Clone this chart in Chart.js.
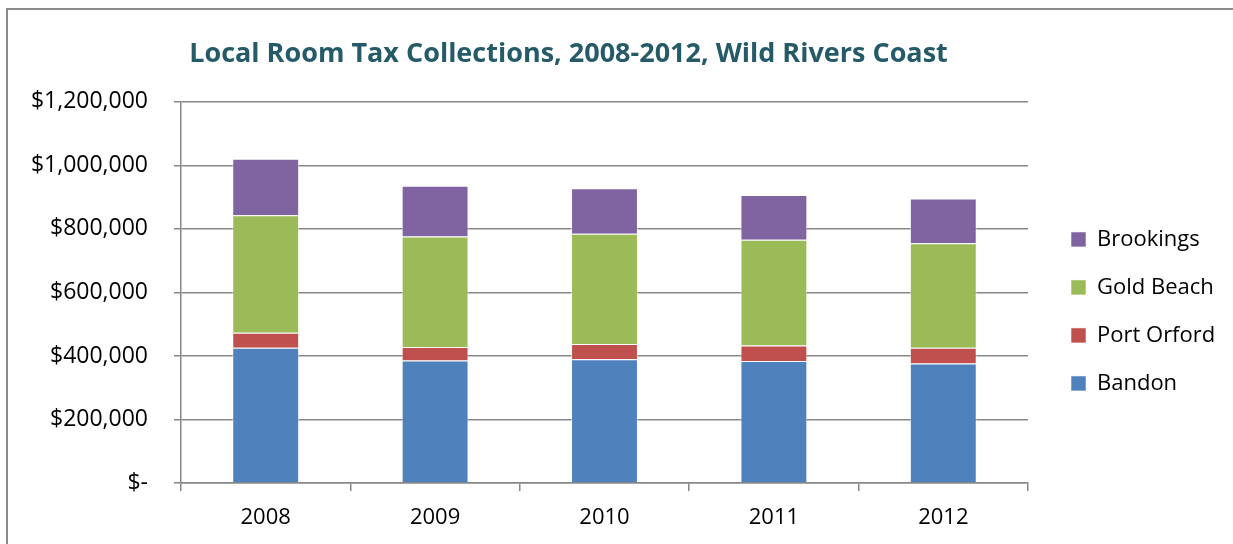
<!DOCTYPE html>
<html>
<head>
<meta charset="utf-8">
<script src="https://cdn.jsdelivr.net/npm/chart.js@4.4.1/dist/chart.umd.min.js"></script>
<style>
  html, body { margin: 0; padding: 0; background: #fff; overflow: hidden; }
  #frame { position: absolute; left: 6px; top: 8px; width: 1400px; height: 700px; border: 2px solid #8a8a8a; box-sizing: border-box; }
  #wrap { position: absolute; left: 0; top: 0; width: 1233px; height: 544px; }
</style>
</head>
<body>
<div id="frame"></div>
<div id="wrap"><canvas id="BarChart" width="1233" height="544"></canvas></div>
<script>
const years = ['2008', '2009', '2010', '2011', '2012'];
const bandon = [426000, 386000, 390000, 384000, 376000];
const portOrford = [47000, 42000, 48000, 49000, 50000];
const goldBeach = [370000, 348000, 347000, 333000, 329000];
const brookings = [178000, 160000, 143000, 141000, 141000];
const yTicks = [0, 200000, 400000, 600000, 800000, 1000000, 1200000];

const FONT = '"Open Sans", "Liberation Sans", sans-serif';
const GRID = '#878787';

// nudge the title so it sits where the original puts it
const titleShift = {
    id: 'titleShift',
    afterLayout(chart) {
        const t = chart.titleBlock;
        if (t) { t.left = 0; t.right = 1137; }
    }
};

const ctx = document.getElementById('BarChart').getContext('2d');
new Chart(ctx, {
    type: 'bar',
    data: {
        labels: years,
        datasets: [
            { label: 'Bandon', data: bandon, backgroundColor: '#4F81BD' },
            { label: 'Port Orford', data: portOrford, backgroundColor: '#C0504D' },
            { label: 'Gold Beach', data: goldBeach, backgroundColor: '#9BBB59' },
            { label: 'Brookings', data: brookings, backgroundColor: '#8064A2' },
        ].map(d => Object.assign(d, {
            borderColor: 'rgba(255,255,255,0.55)',
            borderWidth: 1,
            barPercentage: 0.395,
            categoryPercentage: 1
        }))
    },
    options: {
        responsive: false,
        animation: false,
        layout: { padding: { left: 0, right: 13, top: 0, bottom: 0 } },
        scales: {
            x: {
                stacked: true,
                offset: true,
                afterFit: s => { s.height = 61; },
                grid: { display: true, drawOnChartArea: false, offset: true, tickLength: 8, color: GRID, lineWidth: 1.5 },
                border: { display: true, color: GRID, width: 1.5 },
                ticks: { color: '#000', font: { family: FONT, size: 22 }, padding: 13.5, maxRotation: 0 }
            },
            y: {
                stacked: true,
                min: 0,
                max: 1200000,
                afterBuildTicks: s => { s.ticks = yTicks.map(v => ({ value: v })); },
                afterFit: s => { s.width = 181; },
                grid: { color: GRID, lineWidth: 1.5, tickLength: 7 },
                border: { display: true, color: GRID, width: 1.5 },
                ticks: {
                    color: '#000',
                    font: { family: FONT, size: 23 },
                    padding: 26,
                    callback: v => v === 0 ? '$-' : '$' + v.toLocaleString('en-US')
                }
            },
            pad: {
                position: 'right',
                display: true,
                grid: { display: false },
                border: { display: false },
                ticks: { display: false },
                afterFit: s => { s.width = 17; }
            }
        },
        plugins: {
            title: {
                display: true,
                text: 'Local Room Tax Collections, 2008-2012, Wild Rivers Coast',
                color: '#255B68',
                font: { family: FONT, size: 27, weight: 'bold' },
                padding: { top: 38, bottom: 31.5 }
            },
            legend: {
                position: 'right',
                fullSize: false,
                reverse: true,
                maxWidth: 175,
                title: { display: true, text: '', font: { size: 10 }, padding: { top: 26, bottom: 0 } },
                labels: {
                    color: '#000',
                    font: { family: FONT, size: 22 },
                    boxWidth: 15,
                    boxHeight: 15,
                    padding: 26
                }
            },
            tooltip: { enabled: false }
        }
    },
    plugins: [titleShift]
});
</script>
</body>
</html>
